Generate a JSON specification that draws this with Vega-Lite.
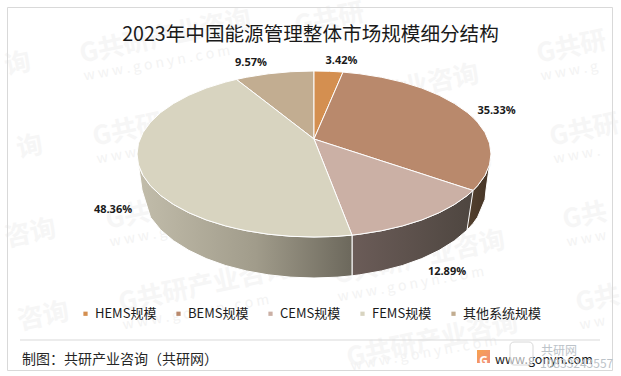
{
"$schema":"https://vega.github.io/schema/vega-lite/v6.json",
"width":621,"height":376,"padding":0,"autosize":"none",
"background":"white",
"config":{"view":{"stroke":null},"font":"Noto Sans CJK SC"},
"title":{"text":"2023年中国能源管理整体市场规模细分结构","anchor":"middle","offset":-46,"fontSize":19.6,"fontWeight":"normal","color":"#1a1a1a","font":"Noto Sans CJK SC"},
"datasets":{
"frame":[{"x":7.5,"x2":612.5,"y":7.5,"y2":370.5}],
"divider":[{"x":20,"x2":600,"y":340}],
"marks":[
{"label":"G共研产业咨询","x":80,"y":55},{"label":"G共研产业咨询","x":93,"y":138},{"label":"G共研产业咨询","x":106,"y":221},{"label":"G共研产业咨询","x":119,"y":304},
{"label":"G共研","x":295,"y":27},{"label":"G共研产业咨询","x":308,"y":110},{"label":"G共研产业咨询","x":321,"y":193},{"label":"G共研产业咨询","x":334,"y":276},{"label":"G共研产业咨询","x":347,"y":359},
{"label":"G共研","x":537,"y":55},{"label":"G共研","x":550,"y":138},{"label":"G共","x":563,"y":221},{"label":"G共","x":576,"y":304},
{"label":"询","x":5,"y":67},{"label":"询","x":17,"y":150},{"label":"咨询","x":5,"y":239},{"label":"咨询","x":18,"y":322}
],
"urls":[
{"label":"w w w . g o n y n . c o m","x":80,"y":55},{"label":"w w w . g o n y n . c o m","x":93,"y":138},{"label":"w w w . g o n y n . c o m","x":106,"y":221},{"label":"w w w . g o n y n . c o m","x":119,"y":304},
{"label":"w w w . g o n y n . c o m","x":308,"y":110},{"label":"w w w . g o n y n . c o m","x":321,"y":193},{"label":"w w w . g o n y n . c o m","x":334,"y":276},{"label":"w w w . g o n y n . c o m","x":347,"y":345},
{"label":"w w w . g","x":537,"y":55},{"label":"w w w .","x":550,"y":138},{"label":"w w w","x":563,"y":221},{"label":"w w","x":576,"y":304}
],
"walls":[
{"wall":"FEMS","x":137,"y":154,"y2":154},{"wall":"FEMS","x":138.5,"y":164.8,"y2":164.8},{"wall":"FEMS","x":142,"y":173.6,"y2":190},{"wall":"FEMS","x":150.5,"y":185.8,"y2":217.3},{"wall":"FEMS","x":160.7,"y":195.5,"y2":229.9},{"wall":"FEMS","x":173.6,"y":204.5,"y2":240.8},{"wall":"FEMS","x":188.8,"y":212.7,"y2":250.3},{"wall":"FEMS","x":206.2,"y":219.9,"y2":258.6},{"wall":"FEMS","x":225.5,"y":225.9,"y2":265.5},{"wall":"FEMS","x":246.3,"y":230.7,"y2":270.9},{"wall":"FEMS","x":268.2,"y":234.2,"y2":274.8},{"wall":"FEMS","x":290.9,"y":236.3,"y2":277.2},{"wall":"FEMS","x":314,"y":237,"y2":278},{"wall":"FEMS","x":337.1,"y":236.3,"y2":277.2},{"wall":"FEMS","x":352,"y":235.1,"y2":275.8},
{"wall":"BEMS","x":467,"y":195.7,"y2":230.2},{"wall":"BEMS","x":473.1,"y":190.4,"y2":223.4},{"wall":"BEMS","x":477.5,"y":185.8,"y2":217.3},{"wall":"BEMS","x":485,"y":175.5,"y2":199.5},{"wall":"BEMS","x":486,"y":173.6,"y2":190},{"wall":"BEMS","x":491,"y":154,"y2":154},
{"wall":"CEMS","x":352,"y":235.1,"y2":275.8},{"wall":"CEMS","x":359.8,"y":234.2,"y2":274.8},{"wall":"CEMS","x":381.7,"y":230.7,"y2":270.9},{"wall":"CEMS","x":402.5,"y":225.9,"y2":265.5},{"wall":"CEMS","x":421.8,"y":219.9,"y2":258.6},{"wall":"CEMS","x":439.2,"y":212.7,"y2":250.3},{"wall":"CEMS","x":454.4,"y":204.5,"y2":240.8},{"wall":"CEMS","x":467,"y":195.7,"y2":230.2},{"wall":"CEMS","x":473.1,"y":190.4,"y2":190.4}
],
"slices":[
{"segment":"其他系统规模","x":236.4,"y":79.4,"y2":79.4},{"segment":"其他系统规模","x":246.3,"y":77.3,"y2":87},{"segment":"其他系统规模","x":268.2,"y":73.8,"y2":103.8},{"segment":"其他系统规模","x":290.9,"y":71.7,"y2":121.3},{"segment":"其他系统规模","x":314,"y":71,"y2":139},
{"segment":"HEMS规模","x":314,"y":71,"y2":139},{"segment":"HEMS规模","x":329.4,"y":71.3,"y2":103.5},{"segment":"HEMS规模","x":337.1,"y":71.7,"y2":85.7},{"segment":"HEMS规模","x":343,"y":72.1,"y2":72.1},
{"segment":"BEMS规模","x":314,"y":139,"y2":139},{"segment":"BEMS规模","x":329.4,"y":103.5,"y2":144},{"segment":"BEMS规模","x":343,"y":72.1,"y2":148.4},{"segment":"BEMS规模","x":359.8,"y":73.8,"y2":153.8},{"segment":"BEMS规模","x":381.7,"y":77.3,"y2":160.9},{"segment":"BEMS规模","x":402.5,"y":82.1,"y2":167.6},{"segment":"BEMS规模","x":421.8,"y":88.1,"y2":173.8},{"segment":"BEMS规模","x":439.2,"y":95.3,"y2":179.5},{"segment":"BEMS规模","x":454.4,"y":103.5,"y2":184.4},{"segment":"BEMS规模","x":467.3,"y":112.5,"y2":188.6},{"segment":"BEMS规模","x":473.1,"y":117.6,"y2":190.4},{"segment":"BEMS规模","x":477.5,"y":122.2,"y2":185.8},{"segment":"BEMS规模","x":485,"y":132.5,"y2":175.5},{"segment":"BEMS规模","x":489.5,"y":143.2,"y2":164.8},{"segment":"BEMS规模","x":491,"y":154,"y2":154},
{"segment":"CEMS规模","x":314,"y":139,"y2":139},{"segment":"CEMS规模","x":329.4,"y":144,"y2":177.9},{"segment":"CEMS规模","x":337.1,"y":146.5,"y2":197.4},{"segment":"CEMS规模","x":352,"y":151.3,"y2":235.1},{"segment":"CEMS规模","x":359.8,"y":153.8,"y2":234.2},{"segment":"CEMS规模","x":381.7,"y":160.9,"y2":230.7},{"segment":"CEMS规模","x":402.5,"y":167.6,"y2":225.9},{"segment":"CEMS规模","x":421.8,"y":173.8,"y2":219.9},{"segment":"CEMS规模","x":439.2,"y":179.5,"y2":212.7},{"segment":"CEMS规模","x":454.4,"y":184.4,"y2":204.5},{"segment":"CEMS规模","x":467.3,"y":188.6,"y2":195.5},{"segment":"CEMS规模","x":473.1,"y":190.4,"y2":190.4},
{"segment":"FEMS规模","x":137,"y":154,"y2":154},{"segment":"FEMS规模","x":138.5,"y":143.2,"y2":164.8},{"segment":"FEMS规模","x":143,"y":132.5,"y2":175.5},{"segment":"FEMS规模","x":150.5,"y":122.2,"y2":185.8},{"segment":"FEMS规模","x":160.7,"y":112.5,"y2":195.5},{"segment":"FEMS规模","x":173.6,"y":103.5,"y2":204.5},{"segment":"FEMS规模","x":188.8,"y":95.3,"y2":212.7},{"segment":"FEMS规模","x":206.2,"y":88.1,"y2":219.9},{"segment":"FEMS规模","x":225.5,"y":82.1,"y2":225.9},{"segment":"FEMS规模","x":236.4,"y":79.4,"y2":228.6},{"segment":"FEMS规模","x":246.3,"y":87,"y2":230.7},{"segment":"FEMS规模","x":268.2,"y":103.8,"y2":234.2},{"segment":"FEMS规模","x":290.9,"y":121.3,"y2":236.3},{"segment":"FEMS规模","x":314,"y":139,"y2":237},{"segment":"FEMS规模","x":329.4,"y":177.9,"y2":236.7},{"segment":"FEMS规模","x":337.1,"y":197.4,"y2":236.3},{"segment":"FEMS规模","x":352,"y":235.1,"y2":235.1}
],
"shares":[
{"segment":"HEMS规模","share":3.42,"x":341.5,"y":61},
{"segment":"BEMS规模","share":35.33,"x":496.5,"y":111},
{"segment":"CEMS规模","share":12.89,"x":447,"y":272},
{"segment":"FEMS规模","share":48.36,"x":113,"y":210},
{"segment":"其他系统规模","share":9.57,"x":251,"y":63}
],
"notes":[{"note":"制图：共研产业咨询（共研网）","x":22,"y":360}],
"site":[{"note":"www.gonyn.com","x":495,"y":360}],
"logo":[{"x":477,"x2":490,"y":350,"y2":363}],
"logoText":[{"note":"G","x":483.5,"y":361}],
"badge":[{"x":510,"x2":533,"y":342,"y2":365}],
"stamp":[{"note":"共研网","x":541,"y":351},{"note":"10833243557","x":540,"y":364}]
},
"layer":[
{"data":{"name":"marks"},"mark":{"type":"text","align":"left","baseline":"middle","angle":-12,"fontSize":26,"fontWeight":"bold","color":"#f6f6f6","font":"Noto Sans CJK SC"},
 "encoding":{"x":{"field":"x","type":"quantitative","scale":{"domain":[0,621],"nice":false,"zero":false},"axis":null},"y":{"field":"y","type":"quantitative","scale":{"domain":[376,0],"nice":false,"zero":false},"axis":null},"text":{"field":"label"}}},
{"data":{"name":"urls"},"mark":{"type":"text","align":"left","baseline":"middle","angle":-10,"fontSize":14,"dy":22,"color":"#f3f3f3","font":"Noto Sans CJK SC"},
 "encoding":{"x":{"field":"x","type":"quantitative"},"y":{"field":"y","type":"quantitative"},"text":{"field":"label"}}},
{"data":{"name":"frame"},"mark":{"type":"rect","fill":null,"stroke":"#d9d9d9","strokeWidth":1},
 "encoding":{"x":{"field":"x","type":"quantitative"},"x2":{"field":"x2"},"y":{"field":"y","type":"quantitative"},"y2":{"field":"y2"}}},
{"data":{"name":"divider"},"mark":{"type":"rule","stroke":"#d9d9d9","strokeWidth":1},
 "encoding":{"x":{"field":"x","type":"quantitative"},"x2":{"field":"x2"},"y":{"field":"y","type":"quantitative"}}},
{"data":{"name":"walls"},"transform":[{"filter":"datum.wall==='BEMS'"}],"mark":{"type":"area","stroke":"white","strokeWidth":1,"fill":{"gradient":"linear","x1":0,"x2":1,"y1":0,"y2":0,"stops":[{"offset":0,"color":"#54412f"},{"offset":1,"color":"#443325"}]}},
 "encoding":{"x":{"field":"x","type":"quantitative"},"y":{"field":"y","type":"quantitative"},"y2":{"field":"y2"}}},
{"data":{"name":"walls"},"transform":[{"filter":"datum.wall==='CEMS'"}],"mark":{"type":"area","stroke":"white","strokeWidth":1,"fill":{"gradient":"linear","x1":0,"x2":1,"y1":0,"y2":0,"stops":[{"offset":0,"color":"#6b5c58"},{"offset":1,"color":"#4e4640"}]}},
 "encoding":{"x":{"field":"x","type":"quantitative"},"y":{"field":"y","type":"quantitative"},"y2":{"field":"y2"}}},
{"data":{"name":"walls"},"transform":[{"filter":"datum.wall==='FEMS'"}],"mark":{"type":"area","stroke":"white","strokeWidth":1,"fill":{"gradient":"linear","x1":0,"x2":1,"y1":0,"y2":0,"stops":[{"offset":0,"color":"#c2bdab"},{"offset":0.55,"color":"#a19c8b"},{"offset":1,"color":"#6c685c"}]}},
 "encoding":{"x":{"field":"x","type":"quantitative"},"y":{"field":"y","type":"quantitative"},"y2":{"field":"y2"}}},
{"data":{"name":"slices"},"mark":{"type":"area","stroke":"white","strokeWidth":1},
 "encoding":{"x":{"field":"x","type":"quantitative"},"y":{"field":"y","type":"quantitative"},"y2":{"field":"y2"},
  "color":{"field":"segment","type":"nominal","scale":{"domain":["HEMS规模","BEMS规模","CEMS规模","FEMS规模","其他系统规模"],"range":["#d48f50","#b9896c","#cbb0a5","#d8d4c0","#c2ad91"]},
   "legend":{"title":null,"orient":"none","legendX":79,"legendY":307,"direction":"horizontal","columns":5,"symbolType":"square","symbolSize":18,"symbolStrokeWidth":0,"labelFontSize":13,"labelColor":"#1a1a1a","labelFont":"Noto Sans CJK SC","labelLimit":120,"labelOffset":3,"columnPadding":15}}}},
{"data":{"name":"shares"},"mark":{"type":"text","fontSize":11,"fontWeight":"bold","color":"#1a1a1a","font":"Open Sans"},
 "transform":[{"calculate":"format(datum.share,'.2f')+'%'","as":"shareLabel"}],
 "encoding":{"x":{"field":"x","type":"quantitative"},"y":{"field":"y","type":"quantitative"},"text":{"field":"shareLabel"}}},
{"data":{"name":"notes"},"mark":{"type":"text","align":"left","fontSize":14,"color":"#262626","font":"Noto Sans CJK SC"},
 "encoding":{"x":{"field":"x","type":"quantitative"},"y":{"field":"y","type":"quantitative"},"text":{"field":"note"}}},
{"data":{"name":"logo"},"mark":{"type":"rect","fill":{"gradient":"linear","x1":0,"x2":1,"y1":0,"y2":1,"stops":[{"offset":0,"color":"#f7a24f"},{"offset":1,"color":"#f08c7a"}]}},
 "encoding":{"x":{"field":"x","type":"quantitative"},"x2":{"field":"x2"},"y":{"field":"y","type":"quantitative"},"y2":{"field":"y2"}}},
{"data":{"name":"logoText"},"mark":{"type":"text","fontSize":12,"fontWeight":"bold","color":"white","font":"Noto Sans"},
 "encoding":{"x":{"field":"x","type":"quantitative"},"y":{"field":"y","type":"quantitative"},"text":{"field":"note"}}},
{"data":{"name":"site"},"mark":{"type":"text","align":"left","fontSize":12.5,"color":"#1a1a1a","font":"Noto Sans CJK SC"},
 "encoding":{"x":{"field":"x","type":"quantitative"},"y":{"field":"y","type":"quantitative"},"text":{"field":"note"}}},
{"data":{"name":"badge"},"mark":{"type":"rect","fill":"white","fillOpacity":0.6,"stroke":"#d8d8d8","cornerRadius":4},
 "encoding":{"x":{"field":"x","type":"quantitative"},"x2":{"field":"x2"},"y":{"field":"y","type":"quantitative"},"y2":{"field":"y2"}}},
{"data":{"name":"stamp"},"mark":{"type":"text","align":"left","fontSize":12,"color":"#bcc3c9","font":"Noto Sans CJK SC"},
 "encoding":{"x":{"field":"x","type":"quantitative"},"y":{"field":"y","type":"quantitative"},"text":{"field":"note"}}}
]
}
